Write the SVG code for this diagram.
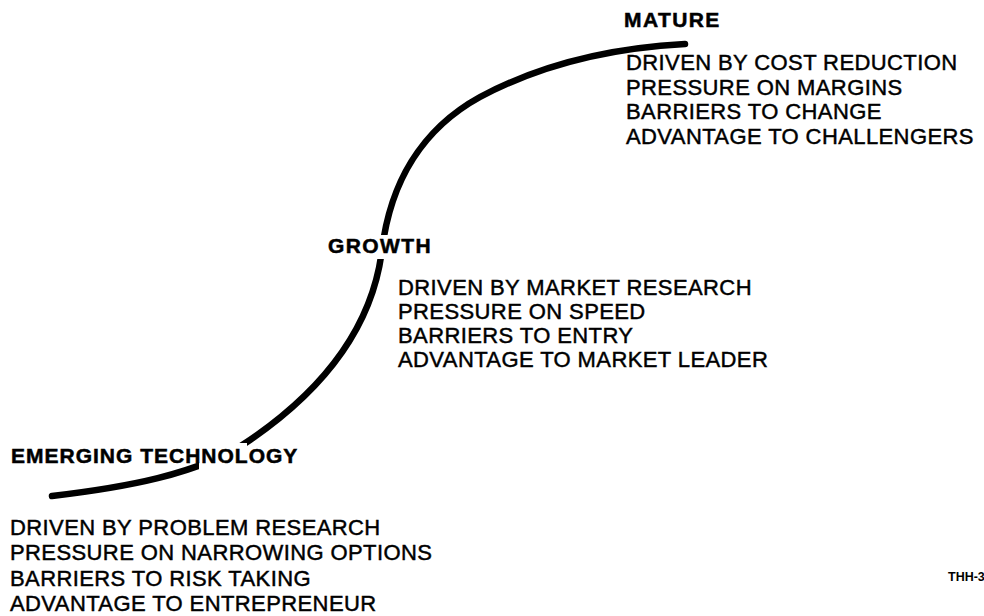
<svg xmlns="http://www.w3.org/2000/svg" width="984" height="616" viewBox="0 0 984 616">
  <style>
    .bg { fill: #ffffff; }
    .curve { fill: none; stroke: #000000; stroke-width: 6.5; stroke-linecap: round; stroke-linejoin: round; }
    .gap { fill: #ffffff; }
    .head { font-family: "Liberation Sans", Arial, Helvetica, sans-serif; font-weight: bold; font-size: 21px; letter-spacing: 1.4px; fill: #000000; stroke: #000000; stroke-width: 0.5px; }
    .body { font-family: "Liberation Sans", Arial, Helvetica, sans-serif; font-size: 22px; letter-spacing: 0.4px; fill: #000000; stroke: #000000; stroke-width: 0.45px; }
    .tag { font-family: "Liberation Sans", Arial, Helvetica, sans-serif; font-weight: bold; font-size: 12.5px; fill: #000000; }
  </style>
  <rect class="bg" x="0" y="0" width="984" height="616"/>

  <g id="connectors">
    <path class="curve" d="M52,496 C120,488 200,475 250,440 C320,392 372,330 382,250 C390,185 420,130 480,97 C540,65 610,48 685,44"/>
    <rect class="gap" x="372" y="235" width="20" height="24"/>
    <rect class="gap" x="199" y="443" width="48" height="27"/>
  </g>

  <g id="mature">
    <text class="head" x="624" y="27">MATURE</text>
    <text class="body" x="626" y="70">DRIVEN BY COST REDUCTION</text>
    <text class="body" x="626" y="94.5">PRESSURE ON MARGINS</text>
    <text class="body" x="626" y="119">BARRIERS TO CHANGE</text>
    <text class="body" x="626" y="143.5">ADVANTAGE TO CHALLENGERS</text>
  </g>

  <g id="growth">
    <text class="head" x="328" y="253">GROWTH</text>
    <text class="body" x="398" y="295">DRIVEN BY MARKET RESEARCH</text>
    <text class="body" x="398" y="319">PRESSURE ON SPEED</text>
    <text class="body" x="398" y="343">BARRIERS TO ENTRY</text>
    <text class="body" x="398" y="367">ADVANTAGE TO MARKET LEADER</text>
  </g>

  <g id="emerging">
    <text class="head" x="11" y="463" style="letter-spacing:1px">EMERGING TECHNOLOGY</text>
    <text class="body" x="10" y="535">DRIVEN BY PROBLEM RESEARCH</text>
    <text class="body" x="10" y="560">PRESSURE ON NARROWING OPTIONS</text>
    <text class="body" x="10" y="585.5">BARRIERS TO RISK TAKING</text>
    <text class="body" x="10" y="611">ADVANTAGE TO ENTREPRENEUR</text>
  </g>

  <g id="tag">
    <text class="tag" x="948" y="581">THH-3</text>
  </g>
</svg>
